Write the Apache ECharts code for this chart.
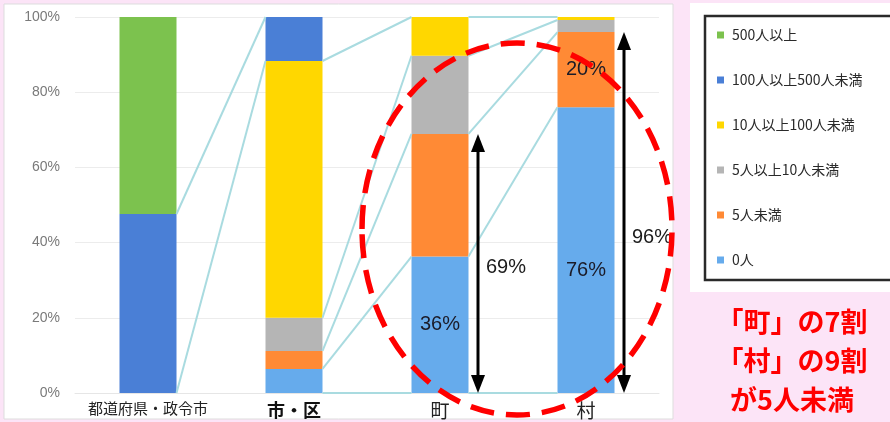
<!DOCTYPE html>
<html><head><meta charset="utf-8">
<script src="https://cdn.jsdelivr.net/npm/echarts@6/dist/echarts.min.js"></script>
<style>html,body{margin:0;padding:0;background:#fce4f7}#c{width:890px;height:422px}</style>
</head><body><div id="c"></div>
<script>
// ---- data ----
const categories = ['都道府県・政令市', '市・区', '町', '村'];
const yTickValues = [0, 20, 40, 60, 80, 100];
// stacked from bottom to top (percent)
const v0人 = [0, 6.4, 36.3, 76.0];
const v5人未満 = [0, 4.8, 32.6, 20.0];
const v5以上10未満 = [0, 8.8, 20.8, 3.2];
const v10以上100未満 = [0, 68.3, 10.3, 0.8];
const v100以上500未満 = [47.6, 11.7, 0, 0];
const v500以上 = [52.4, 0, 0, 0];
const seriesNames = ['0人', '5人未満', '5人以上10人未満', '10人以上100人未満', '100人以上500人未満', '500人以上'];
const legendOrder = ['500人以上', '100人以上500人未満', '10人以上100人未満', '5人以上10人未満', '5人未満', '0人'];
const labelled = [[0, 2], [0, 3], [1, 3]]; // [stack index, category index] with inside % labels
const arrowCats = [2, 3];      // categories with "under 5" arrows
const noteLines = ['「町」の7割', '「村」の9割', 'が5人未満'];

// ---- styles ----
const colors = ['#66abec', '#ff8a35', '#b5b5b5', '#ffd700', '#4a7fd6', '#7cc24e'];
const BAR_W = 57;
const stacks = [v0人, v5人未満, v5以上10未満, v10以上100未満, v100以上500未満, v500以上];

function bounds(k, i) {
  let lo = 0;
  for (let j = 0; j < k; j++) lo += stacks[j][i];
  return [lo, lo + stacks[k][i]];
}
// connectors between shared classes of adjacent bars
const connectors = [];
for (let i = 0; i < categories.length - 1; i++) {
  const seen = {};
  for (let k = 0; k < stacks.length; k++) {
    if (stacks[k][i] > 0 && stacks[k][i + 1] > 0) {
      const a = bounds(k, i), b = bounds(k, i + 1);
      [[a[0], b[0]], [a[1], b[1]]].forEach(p => {
        const key = p[0].toFixed(2) + '_' + p[1].toFixed(2);
        if (!seen[key]) { seen[key] = 1; connectors.push([i, p[0], p[1]]); }
      });
    }
  }
}
const arrows = arrowCats.map(i => [i, 0, v0人[i] + v5人未満[i]]);
const arrowLabelDy = [4, 25];

const barSeries = stacks.map((arr, k) => ({
  name: seriesNames[k], type: 'bar', stack: 'all', barWidth: BAR_W,
  itemStyle: { color: colors[k] },
  data: arr.map((v, i) => {
    const on = labelled.some(p => p[0] === k && p[1] === i);
    if (!on) return v;
    return { value: v, label: { show: true, position: 'inside', offset: (k === 0 && i === 3) ? [0, 20] : [0, 0],
      formatter: p => Math.round(p.value) + '%', fontSize: 20, color: '#1b1b28', fontFamily: 'Liberation Sans' } };
  }),
  z: 3
}));

const connectorSeries = {
  type: 'custom', name: 'conn', z: 4, silent: true,
  encode: { x: 0, y: [1, 2] },
  data: connectors,
  renderItem: (params, api) => {
    const i = api.value(0);
    const p1 = api.coord([i, api.value(1)]);
    const p2 = api.coord([i + 1, api.value(2)]);
    return { type: 'line', shape: { x1: p1[0] + BAR_W / 2, y1: p1[1], x2: p2[0] - BAR_W / 2, y2: p2[1] },
      style: { stroke: '#a9dbe0', lineWidth: 2 } };
  }
};

const arrowSeries = {
  type: 'custom', name: 'arrow', z: 6, silent: true,
  encode: { x: 0, y: [1, 2] },
  data: arrows,
  renderItem: (params, api) => {
    const i = api.value(0);
    const pb = api.coord([i, api.value(1)]);
    const pt = api.coord([i, api.value(2)]);
    const x = pb[0] + 38, hw = 7, hh = 18;
    const label = Math.round(api.value(2)) + '%';
    return { type: 'group', children: [
      { type: 'line', shape: { x1: x, y1: pt[1] + hh - 2, x2: x, y2: pb[1] - hh + 2 }, style: { stroke: '#000', lineWidth: 3 } },
      { type: 'polygon', shape: { points: [[x, pt[1]], [x - hw, pt[1] + hh], [x + hw, pt[1] + hh]] }, style: { fill: '#000' } },
      { type: 'polygon', shape: { points: [[x, pb[1]], [x - hw, pb[1] - hh], [x + hw, pb[1] - hh]] }, style: { fill: '#000' } },
      { type: 'text', x: x + 28, y: (pt[1] + pb[1]) / 2 + arrowLabelDy[params.dataIndex],
        style: { text: label, textAlign: 'center', textVerticalAlign: 'middle', font: '20px "Liberation Sans"', fill: '#1b1b1b' } }
    ] };
  }
};

const chart = echarts.init(document.getElementById('c'));
chart.setOption({
  backgroundColor: '#fce4f7',
  animation: false,
  grid: { left: 75, right: 231, top: 17, bottom: 29 },
  legend: {
    data: legendOrder, orient: 'vertical', left: 712, top: 23, itemWidth: 7, itemHeight: 7, itemGap: 31,
    icon: 'rect', textStyle: { fontSize: 14, color: '#2a2a2a', fontFamily: 'Noto Sans CJK JP', padding: [0, 0, 0, 3] }
  },
  xAxis: {
    type: 'category', data: categories,
    axisLine: { lineStyle: { color: '#e6e6e6' } }, axisTick: { show: false },
    axisLabel: { interval: 0, margin: 8, formatter: (v, idx) => '{s' + idx + '|' + v + '}',
      rich: {
        s0: { fontSize: 15, color: '#222', fontFamily: 'Noto Sans CJK JP' },
        s1: { fontSize: 18, color: '#111', fontWeight: 'bold', fontFamily: 'Noto Sans CJK JP' },
        s2: { fontSize: 19, color: '#222', fontFamily: 'Noto Sans CJK JP' },
        s3: { fontSize: 19, color: '#222', fontFamily: 'Noto Sans CJK JP' }
      } }
  },
  yAxis: {
    type: 'value', min: yTickValues[0], max: yTickValues[yTickValues.length - 1], interval: 20,
    axisLabel: { formatter: '{value}%', fontSize: 14, color: '#7a7a7a', margin: 15, fontFamily: 'Liberation Sans' },
    splitLine: { lineStyle: { color: '#ececec' } }, axisLine: { show: false }, axisTick: { show: false }
  },
  graphic: [
    { type: 'rect', z: -10, shape: { x: 4, y: 4, width: 669, height: 415 }, style: { fill: '#fff', stroke: '#dddddd', lineWidth: 1 } },
    { type: 'rect', z: -10, shape: { x: 690, y: 3, width: 200, height: 289 }, style: { fill: '#fff' } },
    { type: 'rect', z: -9, shape: { x: 705, y: 16, width: 200, height: 264 }, style: { fill: '#fff', stroke: '#2a2a2a', lineWidth: 2.5 } },
    { type: 'ellipse', z: 100, shape: { cx: 517, cy: 229, rx: 155, ry: 186 },
      style: { fill: 'none', stroke: '#ff0000', lineWidth: 5.5, lineDash: [24, 12] } },
    ...noteLines.map((t, j) => ({ type: 'text', z: 100, x: 792, y: 322 + j * 39,
      style: { text: t, textAlign: 'center', textVerticalAlign: 'middle', font: 'bold 27px "Noto Sans CJK JP"', fill: '#ff0000' } }))
  ],
  series: [...barSeries, connectorSeries, arrowSeries]
});
</script></body></html>
